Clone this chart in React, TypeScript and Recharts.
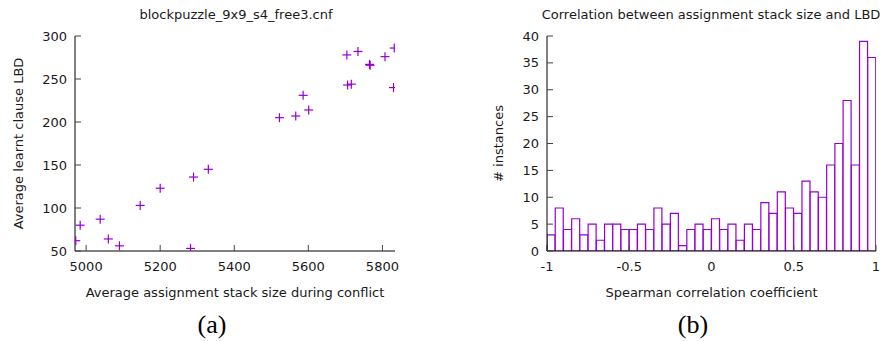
import React from 'react';
import { ScatterChart, Scatter, ComposedChart, Bar, XAxis, YAxis } from 'recharts';

// (a) per-instance scatter
const stackSize = [4972, 4984, 5038, 5060, 5090, 5146, 5200, 5282, 5290, 5330, 5522, 5566, 5586, 5601, 5704, 5706, 5716, 5734, 5765, 5767, 5807, 5832, 5830];
const lbd = [62, 80, 87, 64, 56, 103, 123, 53, 136, 145, 205, 207, 231, 214, 278, 243, 244, 282, 267, 266, 276, 286, 240];
const xTicksA = [5000, 5200, 5400, 5600, 5800];
const yTicksA = [50, 100, 150, 200, 250, 300];

// (b) histogram of spearman coefficients, 0.05 wide bins
const binCenters = [
  -0.975, -0.925, -0.875, -0.825, -0.775, -0.725, -0.675, -0.625, -0.575, -0.525,
  -0.475, -0.425, -0.375, -0.325, -0.275, -0.225, -0.175, -0.125, -0.075, -0.025,
  0.025, 0.075, 0.125, 0.175, 0.225, 0.275, 0.325, 0.375, 0.425, 0.475,
  0.525, 0.575, 0.625, 0.675, 0.725, 0.775, 0.825, 0.875, 0.925, 0.975,
];
const counts = [
  3, 8, 4, 6, 3, 5, 2, 5, 5, 4,
  4, 5, 4, 8, 5, 7, 1, 4, 5, 4,
  6, 4, 5, 2, 5, 4, 9, 7, 11, 8,
  7, 13, 11, 10, 16, 20, 28, 16, 39, 36,
];
const xTicksB = [-1, -0.5, 0, 0.5, 1];
const yTicksB = [0, 5, 10, 15, 20, 25, 30, 35, 40];

const PURPLE = '#9400d3';
const TEXT = '#1a1a1a';
const FONT = 'DejaVu Sans, sans-serif';
const tickStyle = { fontSize: 13, fill: TEXT, fontFamily: FONT };
const labelStyle = { fontSize: 13, fill: TEXT, fontFamily: FONT };

const scatterData = stackSize.map((x, i) => ({ x, y: lbd[i] }));
const histData = binCenters.map((mid, i) => ({ mid, count: counts[i] }));

const Plus = (props: any) => {
  const { cx, cy } = props;
  if (cx == null || cy == null) return null;
  return (
    <g stroke={PURPLE} strokeWidth={1.2}>
      <line x1={cx - 4.5} y1={cy} x2={cx + 4.5} y2={cy} />
      <line x1={cx} y1={cy - 4.5} x2={cx} y2={cy + 4.5} />
    </g>
  );
};

// mirrored axes: keep tick marks, drop the labels
const noLabel = () => <g />;

const axisLine = { stroke: '#000', strokeWidth: 1 };
const tickLine = { stroke: '#444', strokeWidth: 1 };

const textAbs = (left: number, top: number, extra: React.CSSProperties = {}): React.CSSProperties => ({
  position: 'absolute',
  left,
  top,
  transform: 'translate(-50%, -50%)',
  whiteSpace: 'nowrap',
  color: TEXT,
  fontFamily: FONT,
  fontSize: 13,
  ...extra,
});

const captionFont = { fontFamily: 'Liberation Serif, DejaVu Serif, serif', fontSize: 26, color: '#000' };

export default function App() {
  return (
    <div style={{ position: 'absolute', left: 0, top: 0, width: 884, height: 341, background: '#fff', overflow: 'hidden' }}>
      <div style={textAbs(236, 14)}>blockpuzzle_9x9_s4_free3.cnf</div>
      <div style={textAbs(711, 14)}>Correlation between assignment stack size and LBD</div>

      <div style={{ position: 'absolute', left: 0, top: 0 }}>
        <ScatterChart width={440} height={300} margin={{ top: 36, right: 45, left: 0, bottom: 0 }}>
          <XAxis
            type="number" dataKey="x" domain={[4970, 5834]} ticks={xTicksA} allowDataOverflow
            height={49} tickSize={-6} tickMargin={17} tick={tickStyle}
            axisLine={axisLine} tickLine={tickLine}
            label={{ value: 'Average assignment stack size during conflict', position: 'insideBottom', offset: 3, style: labelStyle }}
          />
          <XAxis
            xAxisId="top" orientation="top" type="number" domain={[4970, 5834]} ticks={xTicksA} allowDataOverflow
            height={0} tickSize={-6} tick={noLabel} axisLine={axisLine} tickLine={tickLine}
          />
          <YAxis
            type="number" dataKey="y" domain={[50, 300]} ticks={yTicksA} allowDataOverflow
            width={75} tickSize={-6} tickMargin={14} tick={tickStyle}
            axisLine={axisLine} tickLine={tickLine}
            label={{ value: 'Average learnt clause LBD', angle: -90, position: 'insideLeft', offset: 18, style: { ...labelStyle, textAnchor: 'middle' } }}
          />
          <YAxis
            yAxisId="right" orientation="right" type="number" domain={[50, 300]} ticks={yTicksA} allowDataOverflow
            width={0} tickSize={-6} tick={noLabel} axisLine={axisLine} tickLine={tickLine}
          />
          <Scatter data={scatterData} shape={<Plus />} isAnimationActive={false} />
        </ScatterChart>
      </div>

      <div style={{ position: 'absolute', left: 440, top: 0 }}>
        <ComposedChart width={444} height={300} data={histData} margin={{ top: 36, right: 8, left: 0, bottom: 0 }} barCategoryGap={0} barGap={0}>
          <XAxis
            type="number" dataKey="mid" domain={[-1, 1]} ticks={xTicksB} allowDataOverflow
            height={49} tickSize={-6} tickMargin={17} tick={tickStyle}
            axisLine={axisLine} tickLine={tickLine}
            label={{ value: 'Spearman correlation coefficient', position: 'insideBottom', offset: 3, style: labelStyle }}
          />
          <XAxis
            xAxisId="top" orientation="top" type="number" domain={[-1, 1]} ticks={xTicksB} allowDataOverflow
            height={0} tickSize={-6} tick={noLabel} axisLine={axisLine} tickLine={tickLine}
          />
          <YAxis
            type="number" domain={[0, 40]} ticks={yTicksB} allowDataOverflow
            width={107} tickSize={-6} tickMargin={14} tick={tickStyle}
            axisLine={axisLine} tickLine={tickLine}
            label={{ value: '# instances', angle: -90, position: 'insideLeft', offset: 58, style: { ...labelStyle, textAnchor: 'middle' } }}
          />
          <YAxis
            yAxisId="right" orientation="right" type="number" domain={[0, 40]} ticks={yTicksB} allowDataOverflow
            width={0} tickSize={-6} tick={noLabel} axisLine={axisLine} tickLine={tickLine}
          />
          <Bar dataKey="count" fill="#fff" stroke={PURPLE} strokeWidth={1.2} isAnimationActive={false} />
        </ComposedChart>
      </div>

      <div style={textAbs(212, 325, captionFont)}>(a)</div>
      <div style={textAbs(693, 325, captionFont)}>(b)</div>
    </div>
  );
}
